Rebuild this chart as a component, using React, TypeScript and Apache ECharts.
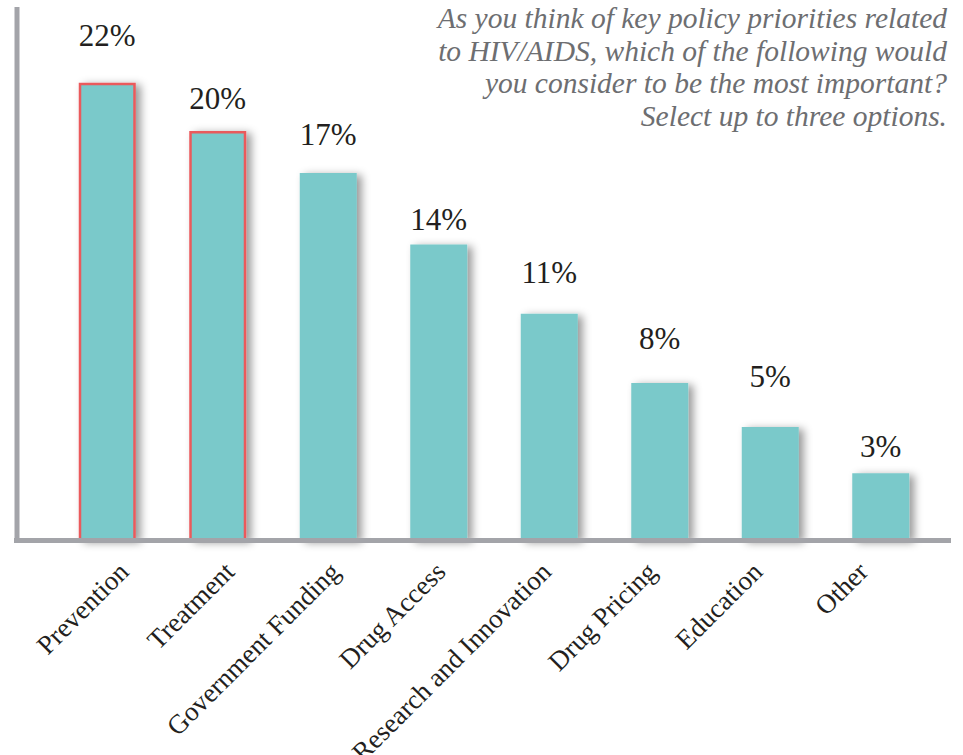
import React, { useEffect, useRef } from "react";
import * as echarts from "echarts";

const categories = [
  "Prevention",
  "Treatment",
  "Government Funding",
  "Drug Access",
  "Research and Innovation",
  "Drug Pricing",
  "Education",
  "Other",
];
// bar heights (percent of respondents)
const shares = [21.8, 19.5, 17.5, 14.1, 10.8, 7.5, 5.4, 3.2];
// printed value labels
const shareLabels = ["22%", "20%", "17%", "14%", "11%", "8%", "5%", "3%"];
const highlighted = ["Prevention", "Treatment"];
const titleLines = [
  "As you think of key policy priorities related",
  "to HIV/AIDS, which of the following would",
  "you consider to be the most important?",
  "Select up to three options.",
];

const labelDistance = [32, 17, 23, 9, 26, 29, 35, 11];

const TEAL = "#7ac9ca";
const RED = "#ea5a5b";
const AXIS = "#a3a4a9";
const SERIF = "Liberation Serif";

export default function App() {
  const ref = useRef<HTMLDivElement>(null);

  useEffect(() => {
    if (!ref.current) return;
    const chart = echarts.init(ref.current, undefined, { renderer: "svg" });

    const data = shares.map((v, i) => {
      const isHi = highlighted.includes(categories[i]);
      return {
        value: v,
        label: { distance: labelDistance[i] },
        itemStyle: isHi
          ? { borderColor: RED, borderWidth: 2.5 }
          : { borderWidth: 0 },
      };
    });

    chart.setOption({
      animation: false,
      backgroundColor: "#ffffff",
      grid: [
        {
          left: 52,
          right: 27,
          top: 15.5,
          bottom: 214.5,
          containLabel: false,
          outerBoundsMode: "none",
        },
        {
          left: 71.2,
          right: 47,
          top: 15.5,
          bottom: 214.5,
          containLabel: false,
          outerBoundsMode: "none",
        },
      ],
      xAxis: [
        {
          type: "category",
          gridIndex: 0,
          data: categories,
          axisLine: { show: false },
          axisTick: { show: false },
          axisLabel: { show: false },
        },
        {
          type: "category",
          gridIndex: 1,
          data: categories,
          axisLine: { show: false },
          axisTick: { show: false },
          axisLabel: {
            rotate: 45,
            margin: 26.5,
            interval: 0,
            hideOverlap: false,
            fontFamily: SERIF,
            fontSize: 27,
            color: "#231f20",
          },
        },
      ],
      yAxis: [
        { type: "value", gridIndex: 0, min: 0, max: 25, show: false },
        { type: "value", gridIndex: 1, min: 0, max: 25, show: false },
      ],
      series: [
        {
          type: "bar",
          xAxisIndex: 0,
          yAxisIndex: 0,
          barWidth: 57,
          data,
          itemStyle: {
            color: TEAL,
            shadowColor: "rgba(0,0,0,0.4)",
            shadowBlur: 9,
            shadowOffsetX: 5,
            shadowOffsetY: 2,
          },
          label: {
            show: true,
            position: "top",
            fontFamily: SERIF,
            fontSize: 31,
            color: "#231f20",
            formatter: (p: any) => shareLabels[p.dataIndex],
          },
        },
      ],
      graphic: {
        elements: [
          {
            type: "text",
            z: 100,
            x: 947,
            y: 2,
            style: {
              text: titleLines.join("\n"),
              align: "right",
              verticalAlign: "top",
              fontFamily: SERIF,
              fontStyle: "italic",
              fontSize: 29.5,
              lineHeight: 32.5,
              fill: "#6d6e71",
            },
          },
          {
            type: "line",
            z: 100,
            shape: { x1: 17, y1: 7, x2: 17, y2: 543 },
            style: { stroke: AXIS, lineWidth: 5 },
          },
          {
            type: "line",
            z: 100,
            shape: { x1: 14, y1: 540.5, x2: 951, y2: 540.5 },
            style: { stroke: AXIS, lineWidth: 5 },
          },
        ],
      },
    });

    return () => chart.dispose();
  }, []);

  return (
    <div
      ref={ref}
      style={{ position: "fixed", left: 0, top: 0, width: 963, height: 755 }}
    />
  );
}
